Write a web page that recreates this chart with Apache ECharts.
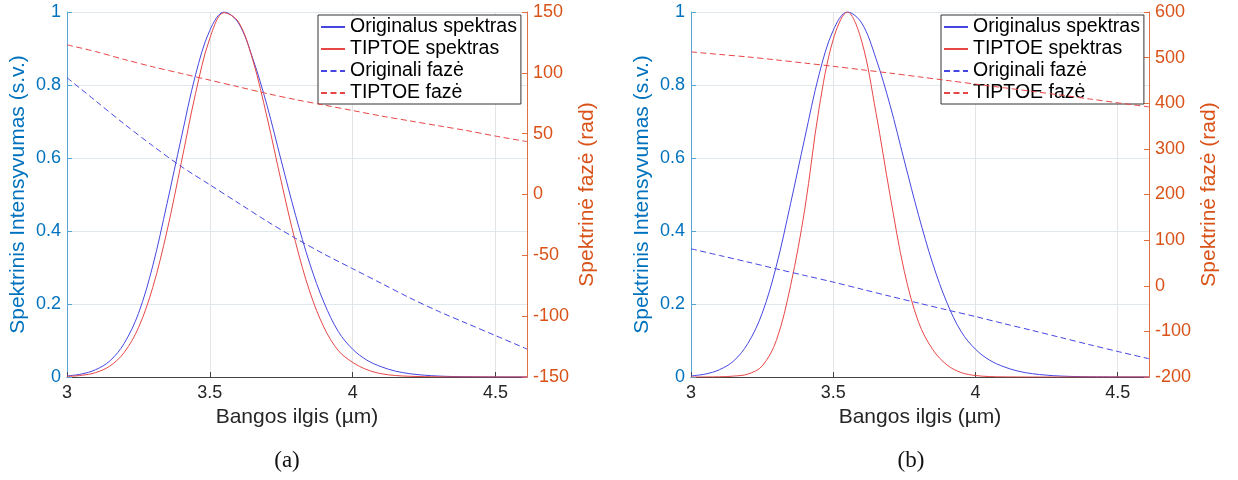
<!DOCTYPE html>
<html>
<head>
<meta charset="utf-8">
<script src="https://cdn.jsdelivr.net/npm/echarts@6/dist/echarts.min.js"></script>
<style>
html,body{margin:0;padding:0;background:#ffffff;}
#chart{width:1238px;height:480px;}
</style>
</head>
<body>
<div id="chart"></div>
<script>
// ---------- data ----------
const wavelength = [3.00,3.05,3.10,3.15,3.20,3.25,3.30,3.35,3.40,3.45,3.50,3.55,3.60,3.65,3.70,3.75,3.80,3.85,3.90,3.95,4.00,4.05,4.10,4.15,4.20,4.25,4.30,4.35,4.40,4.45,4.50,4.55,4.60,4.61];

// original spectrum (same in both panels)
const origSpectrum = [0.003,0.008,0.020,0.044,0.092,0.174,0.304,0.475,0.655,0.828,0.950,1.000,0.970,0.873,0.744,0.592,0.443,0.310,0.203,0.124,0.076,0.046,0.028,0.016,0.009,0.005,0.0026,0.0013,0.0007,0.0004,0.0002,0.0001,0.0001,0.0001];

// TIPTOE spectrum, panel (a)
const tiptoeSpectrumA = [0.0015,0.0045,0.012,0.030,0.067,0.135,0.245,0.400,0.587,0.777,0.928,0.998,0.973,0.869,0.712,0.535,0.369,0.233,0.135,0.072,0.040,0.020,0.009,0.004,0.002,0.001,0.0005,0.0002,0.0001,0.0001,0,0,0,0];

// TIPTOE spectrum, panel (b)
const tiptoeSpectrumB = [0,0.0001,0.0006,0.0025,0.008,0.030,0.100,0.250,0.460,0.735,0.925,1.000,0.920,0.725,0.497,0.289,0.150,0.075,0.033,0.012,0.004,0.0012,0.0003,0.0001,0,0,0,0,0,0,0,0,0,0];

const phaseWavelength = [3.0,3.1,3.2,3.3,3.4,3.5,3.6,3.7,3.8,3.9,4.0,4.1,4.2,4.3,4.4,4.5,4.61];

// phases (rad), panel (a)
const origPhaseA   = [96,77,58,40,23,8,-7,-22,-36,-49,-61,-73,-85,-96,-106,-116,-127];
const tiptoePhaseA = [123,117.5,111,105,99.5,94,88.5,83,78,73.5,69,64.5,60.5,56.5,52.5,48,43.5];

// phases (rad), panel (b)
const origPhaseB   = [81,66.5,52,37,22.5,8,-7.5,-23,-38,-53,-67.5,-83,-98,-113.5,-129,-144,-160];
const tiptoePhaseB = [512.5,507,501.5,495,488,481,473.5,466,458,450,442,434,426,418,409.5,401,392];

const seriesNames = ['Originalus spektras','TIPTOE spektras','Originali fazė','TIPTOE fazė'];
const captions = ['(a)','(b)'];
const xAxisName = 'Bangos ilgis (µm)';
const leftAxisName = 'Spektrinis Intensyvumas (s.v.)';
const rightAxisName = 'Spektrinė fazė (rad)';

// ---------- helpers ----------
const pairs = (xs, ys) => xs.map((x, i) => [x, ys[i]]);
const FONT = "'Liberation Sans', Arial, Helvetica, sans-serif";
const BLUE = '#4646e2';
const RED = '#e84646';
const LEFT_C = '#0072BD';
const RIGHT_C = '#D95319';
const DARK = '#262626';

const plots = [
  {left: 67, width: 460, rMin: -150, rMax: 150, rInt: 50, tip: tiptoeSpectrumA, oPh: origPhaseA, tPh: tiptoePhaseA, legendLeft: 318, cap: 287},
  {left: 691, width: 458, rMin: -200, rMax: 600, rInt: 100, tip: tiptoeSpectrumB, oPh: origPhaseB, tPh: tiptoePhaseB, legendLeft: 941, cap: 911}
];

const grids = [], xAxes = [], yAxes = [], series = [], legends = [], graphics = [];

plots.forEach((p, i) => {
  grids.push({left: p.left, width: p.width, top: 12, height: 365, containLabel: false});
  xAxes.push({
    type: 'value', gridIndex: i, min: 3, max: 4.61, interval: 0.5,
    name: xAxisName, nameLocation: 'middle', nameGap: 29,
    nameTextStyle: {color: DARK, fontSize: 21, fontFamily: FONT},
    axisLine: {show: true, onZero: false, lineStyle: {color: '#444', width: 1}},
    axisTick: {show: true, inside: true, length: 5, lineStyle: {color: '#444'}},
    axisLabel: {color: DARK, fontSize: 18, fontFamily: FONT, margin: 7, showMaxLabel: false},
    splitLine: {show: true, lineStyle: {color: '#e4e4e4', width: 1}}
  });
  yAxes.push({
    type: 'value', gridIndex: i, position: 'left', min: 0, max: 1, interval: 0.2,
    name: leftAxisName, nameLocation: 'middle', nameGap: 38, nameRotate: 90,
    nameTextStyle: {color: LEFT_C, fontSize: 21, fontFamily: FONT},
    axisLine: {show: true, onZero: false, lineStyle: {color: '#55a6d6', width: 1}},
    axisTick: {show: true, inside: true, length: 5, lineStyle: {color: '#55a6d6'}},
    axisLabel: {color: LEFT_C, fontSize: 18, fontFamily: FONT, margin: 6},
    splitLine: {show: true, lineStyle: {color: '#e0e8ee', width: 1}}
  });
  yAxes.push({
    type: 'value', gridIndex: i, position: 'right', min: p.rMin, max: p.rMax, interval: p.rInt,
    name: rightAxisName, nameLocation: 'middle', nameGap: 50, nameRotate: 90,
    nameTextStyle: {color: RIGHT_C, fontSize: 21, fontFamily: FONT},
    axisLine: {show: true, onZero: false, lineStyle: {color: '#e07040', width: 1}},
    axisTick: {show: true, inside: true, length: 5, lineStyle: {color: '#e07040'}},
    axisLabel: {color: RIGHT_C, fontSize: 18, fontFamily: FONT, margin: 6},
    splitLine: {show: false}
  });
  const base = {type: 'line', xAxisIndex: i, symbol: 'none', showSymbol: false, silent: true};
  series.push(Object.assign({}, base, {name: seriesNames[0], yAxisIndex: 2*i, smooth: 0.35,
    data: pairs(wavelength, origSpectrum), lineStyle: {color: BLUE, width: 1}, itemStyle: {color: BLUE}, z: 2}));
  series.push(Object.assign({}, base, {name: seriesNames[1], yAxisIndex: 2*i, smooth: 0.35,
    data: pairs(wavelength, p.tip), lineStyle: {color: RED, width: 1}, itemStyle: {color: RED}, z: 3}));
  series.push(Object.assign({}, base, {name: seriesNames[2], yAxisIndex: 2*i+1, smooth: 0.3,
    data: pairs(phaseWavelength, p.oPh), lineStyle: {color: BLUE, width: 1, type: [6, 3.5]}, itemStyle: {color: BLUE}, z: 4}));
  series.push(Object.assign({}, base, {name: seriesNames[3], yAxisIndex: 2*i+1, smooth: 0.3,
    data: pairs(phaseWavelength, p.tPh), lineStyle: {color: RED, width: 1, type: [6, 3.5]}, itemStyle: {color: RED}, z: 4}));
  legends.push({
    data: seriesNames, orient: 'vertical', left: p.legendLeft, top: 15,
    itemWidth: 24, itemHeight: 12, itemGap: 2, padding: [2, 4, 1, 2],
    borderColor: '#333', borderWidth: 1, backgroundColor: '#ffffff', borderRadius: 0,
    selectedMode: false,
    itemStyle: {opacity: 0, borderWidth: 0},
    textStyle: {color: '#000', fontSize: 19.5, fontFamily: FONT}
  });
  graphics.push({
    type: 'text', x: p.cap, y: 461,
    style: {text: captions[i], font: "23px 'Liberation Serif', 'DejaVu Serif', serif",
      fill: '#111', align: 'center', verticalAlign: 'middle', textAlign: 'center', textVerticalAlign: 'middle'}
  });
});

const chart = echarts.init(document.getElementById('chart'), null, {renderer: 'canvas'});
chart.setOption({
  animation: false,
  backgroundColor: '#ffffff',
  grid: grids,
  xAxis: xAxes,
  yAxis: yAxes,
  legend: legends,
  series: series,
  graphic: graphics
});
</script>
</body>
</html>
